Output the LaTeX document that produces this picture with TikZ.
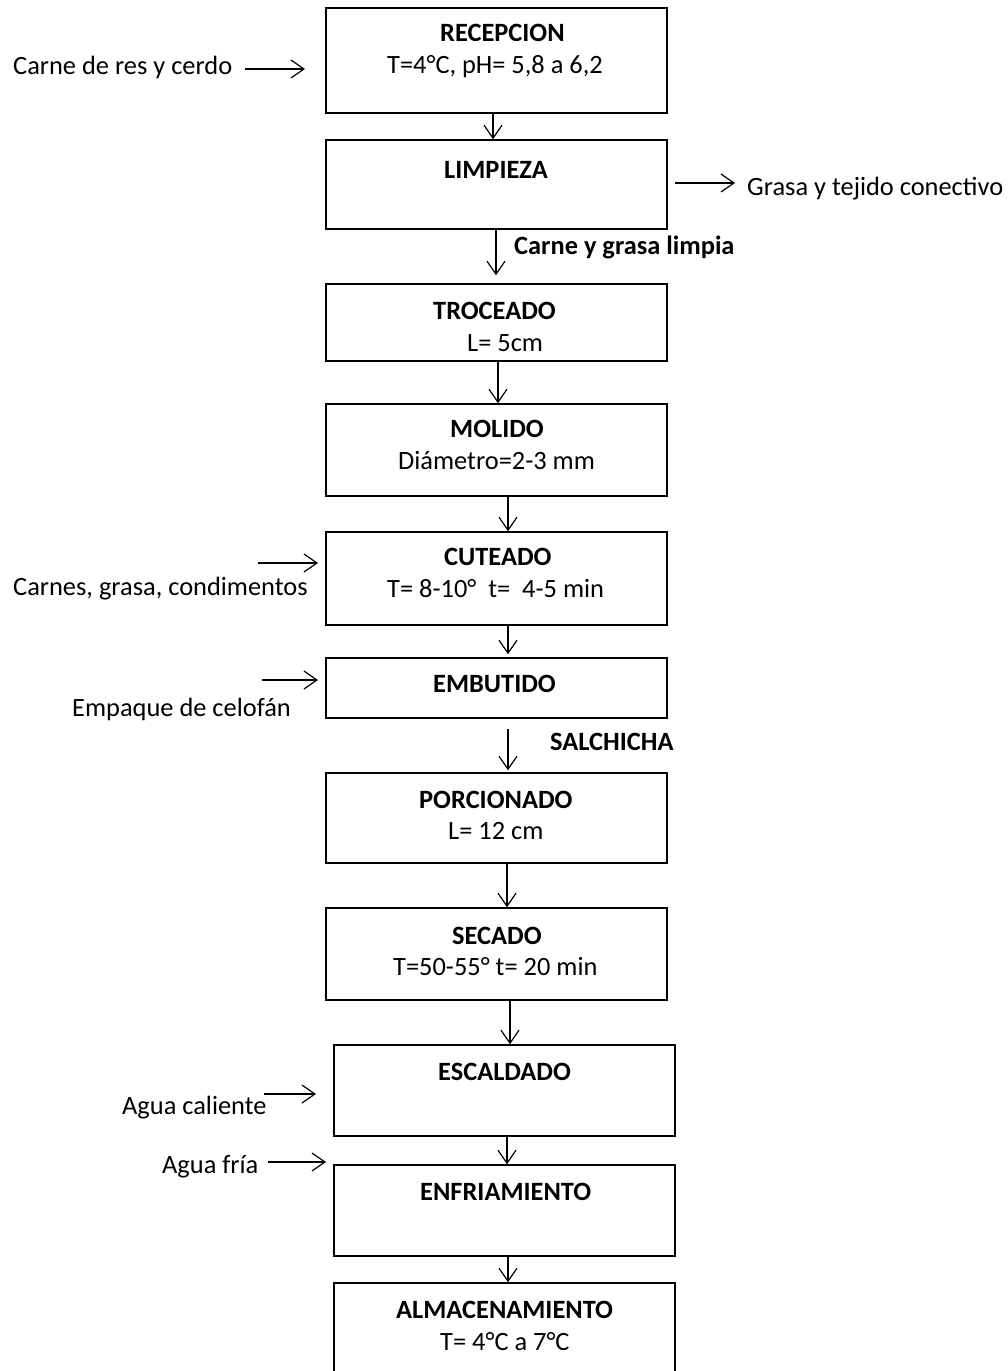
\documentclass[tikz,border=0pt]{standalone}
\usepackage{fontspec}
\setmainfont{Carlito}
\usetikzlibrary{arrows.meta}
\begin{document}
\begin{tikzpicture}[x=1pt,y=-1pt,
  box/.style={draw, line width=1.5pt, rectangle, inner sep=0pt},
  arr/.style={line width=1.2pt, -{Straight Barb[length=13pt,width=18pt,line width=1.2pt]}},
  txt/.style={anchor=base west, inner sep=0pt, font=\fontsize{26.4}{31}\selectfont},
  ttl/.style={txt, font=\fontsize{26.4}{31}\selectfont\bfseries}]
\useasboundingbox (0,0) rectangle (1008,1371);
% boxes
\node[box, minimum width=341pt, minimum height=105pt] (rec) at (496.5,60.5) {};
\node[box, minimum width=341pt, minimum height=89pt] (lim) at (496.5,184.5) {};
\node[box, minimum width=341pt, minimum height=77pt] (tro) at (496.5,322.5) {};
\node[box, minimum width=341pt, minimum height=92pt] (mol) at (496.5,450) {};
\node[box, minimum width=341pt, minimum height=93pt] (cut) at (496.5,578.5) {};
\node[box, minimum width=341pt, minimum height=60pt] (emb) at (496.5,688) {};
\node[box, minimum width=341pt, minimum height=90pt] (por) at (496.5,818) {};
\node[box, minimum width=341pt, minimum height=92pt] (sec) at (496.5,954) {};
\node[box, minimum width=341pt, minimum height=91pt] (esc) at (504.5,1090.5) {};
\node[box, minimum width=341pt, minimum height=91pt] (enf) at (504.5,1210.5) {};
\node[box, minimum width=341pt, minimum height=92pt] (alm) at (504.5,1329) {};
% box texts
\node[ttl] (recT) at (440,41) {RECEPCION};
\node[txt] (recS) at (387,73) {T=4°C, pH= 5,8 a 6,2};
\node[ttl] (limT) at (444,178) {LIMPIEZA};
\node[ttl] (troT) at (433,319) {TROCEADO};
\node[txt] (troS) at (467,351) {L= 5cm};
\node[ttl] (molT) at (450,437) {MOLIDO};
\node[txt] (molS) at (398,469) {Diámetro=2-3 mm};
\node[ttl] (cutT) at (444,565) {CUTEADO};
\node[txt] (cutS) at (387,597) {T= 8-10°\ \ t=\ \ 4-5 min};
\node[ttl] (embT) at (433,692) {EMBUTIDO};
\node[ttl] (porT) at (419,808) {PORCIONADO};
\node[txt] (porS) at (448,839) {L= 12 cm};
\node[ttl] (secT) at (452,944) {SECADO};
\node[txt] (secS) at (393,975) {T=50-55° t= 20 min};
\node[ttl] (escT) at (438,1080) {ESCALDADO};
\node[ttl] (enfT) at (420,1200) {ENFRIAMIENTO};
\node[ttl] (almT) at (396,1318) {ALMACENAMIENTO};
\node[txt] (almS) at (440,1350) {T= 4°C a 7°C};
% side texts
\node[txt] (in1) at (13,74) {Carne de res y cerdo};
\node[txt] (out1) at (747,195) {Grasa y tejido conectivo};
\node[ttl] (lab1) at (514,254) {Carne y grasa limpia};
\node[txt] (in2) at (13,595) {Carnes, grasa, condimentos};
\node[txt] (in3) at (72,716) {Empaque de celofán};
\node[ttl] (lab2) at (550,750) {SALCHICHA};
\node[txt] (in4) at (122,1114) {Agua caliente};
\node[txt] (in5) at (162,1173) {Agua fría};
% free ends of side arrows
\coordinate (a1s) at (245,69);  \coordinate (a1e) at (305,69);
\coordinate (a2s) at (675,183); \coordinate (a2e) at (735,183);
\coordinate (a3s) at (258,563); \coordinate (a3e) at (318,563);
\coordinate (a4s) at (262,680); \coordinate (a4e) at (318,680);
\coordinate (a5s) at (264,1094); \coordinate (a5e) at (316,1094);
\coordinate (a6s) at (268,1162); \coordinate (a6e) at (326,1162);
\draw[arr] (a1s) -- (a1e);
\draw[arr] (a2s) -- (a2e);
\draw[arr] (a3s) -- (a3e);
\draw[arr] (a4s) -- (a4e);
\draw[arr] (a5s) -- (a5e);
\draw[arr] (a6s) -- (a6e);
% main flow
\draw[arr] ([xshift=-3.5pt]rec.south) -- ([xshift=-3.5pt]lim.north);
\draw[arr, shorten >=8pt] ([xshift=-0.5pt]lim.south) -- ([xshift=-0.5pt]tro.north);
\draw[arr] ([xshift=1.5pt]tro.south) -- ([xshift=1.5pt]mol.north);
\draw[arr] ([xshift=11.5pt]mol.south) -- ([xshift=11.5pt]cut.north);
\draw[arr, shorten >=3pt] ([xshift=11.5pt]cut.south) -- ([xshift=11.5pt]emb.north);
\draw[arr, shorten <=10pt, shorten >=2pt] ([xshift=11.5pt]emb.south) -- ([xshift=11.5pt]por.north);
\draw[arr] ([xshift=10.5pt]por.south) -- ([xshift=10.5pt]sec.north);
\draw[arr] ([xshift=13.5pt]sec.south) -- ([xshift=5.5pt]esc.north);
\draw[arr] ([xshift=2.5pt]esc.south) -- ([xshift=2.5pt]enf.north);
\draw[arr] ([xshift=3.5pt]enf.south) -- ([xshift=3.5pt]alm.north);
\end{tikzpicture}
\end{document}
